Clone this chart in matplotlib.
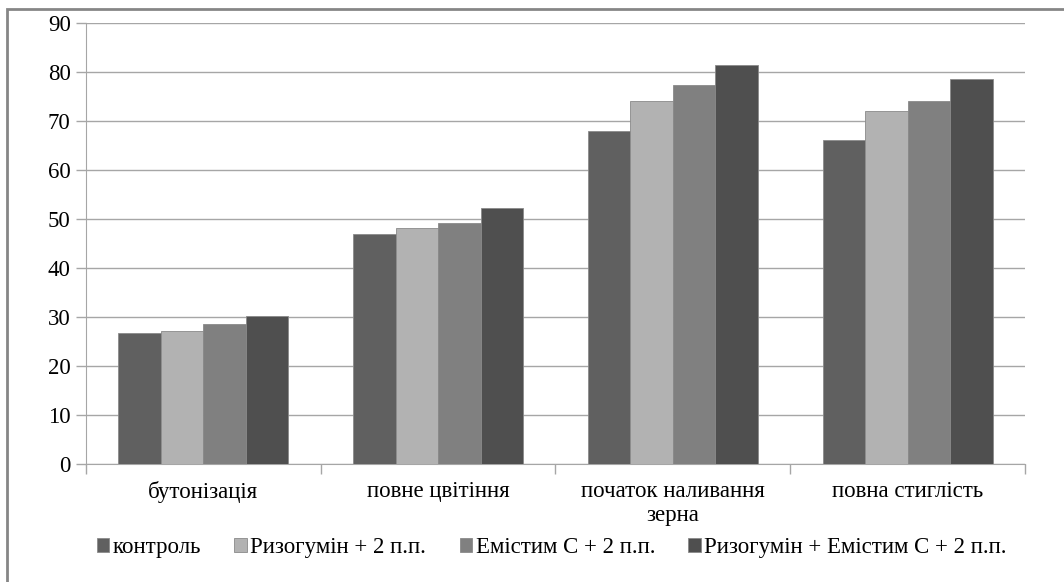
import numpy as np
import matplotlib.pyplot as plt
from matplotlib.patches import Rectangle

plt.rcParams['font.family'] = ['Liberation Serif', 'DejaVu Serif']

categories = ['бутонізація', 'повне цвітіння', 'початок наливання\nзерна', 'повна стиглість']
series_names = ['контроль', 'Ризогумін + 2 п.п.', 'Емістим С + 2 п.п.', 'Ризогумін + Емістим С + 2 п.п.']
kontrol = [26.7, 46.9, 68.0, 66.2]
rizohumin = [27.1, 48.1, 74.1, 72.0]
emistym = [28.5, 49.2, 77.3, 74.1]
rizo_emis = [30.3, 52.2, 81.4, 78.6]
colors = ['#606060', '#b2b2b2', '#808080', '#4f4f4f']

fig = plt.figure(figsize=(10.64, 5.82), dpi=100)
ax = fig.add_axes([0.0808, 0.2027, 0.8825, 0.7578])

# outer chart border (right and bottom edges fall outside the picture)
fig.patches.append(Rectangle((0.0066, -0.05), 1.05, 1.0345, transform=fig.transFigure,
                             fill=False, edgecolor='#868686', linewidth=2))

x = np.arange(len(categories))
w = 0.181
for i, vals in enumerate([kontrol, rizohumin, emistym, rizo_emis]):
    ax.bar(x + (i - 1.5) * w, vals, w, color=colors[i], edgecolor='#8a8a8a',
           linewidth=0.6, label=series_names[i], zorder=3)

ax.set_xlim(-0.5, 3.5)
ax.set_ylim(0, 90)
ax.set_yticks(np.arange(0, 91, 10))
ax.grid(axis='y', color='#a6a6a6', linewidth=1, zorder=0)
ax.set_axisbelow(True)

for s in ['top', 'right']:
    ax.spines[s].set_visible(False)
ax.spines['left'].set_color('#a6a6a6')
ax.spines['bottom'].set_color('#a6a6a6')

ax.set_xticks(x)
ax.set_xticklabels(categories, fontsize=16.5, linespacing=1.2)
ax.set_xticks(np.arange(-0.5, 4, 1), minor=True)
ax.tick_params(axis='x', which='major', length=0, pad=12)
ax.tick_params(axis='x', which='minor', length=7, color='#a6a6a6', width=1)
ax.tick_params(axis='y', length=7, color='#a6a6a6', width=1, labelsize=16.5, pad=4)

ax.legend(loc='center', bbox_to_anchor=(0.496, -0.19), ncol=4, frameon=False,
          fontsize=16.5, handlelength=0.55, handleheight=0.55, handletextpad=0.15,
          columnspacing=1.45, borderaxespad=0, borderpad=0)

fig.savefig('out.png', dpi=100)
